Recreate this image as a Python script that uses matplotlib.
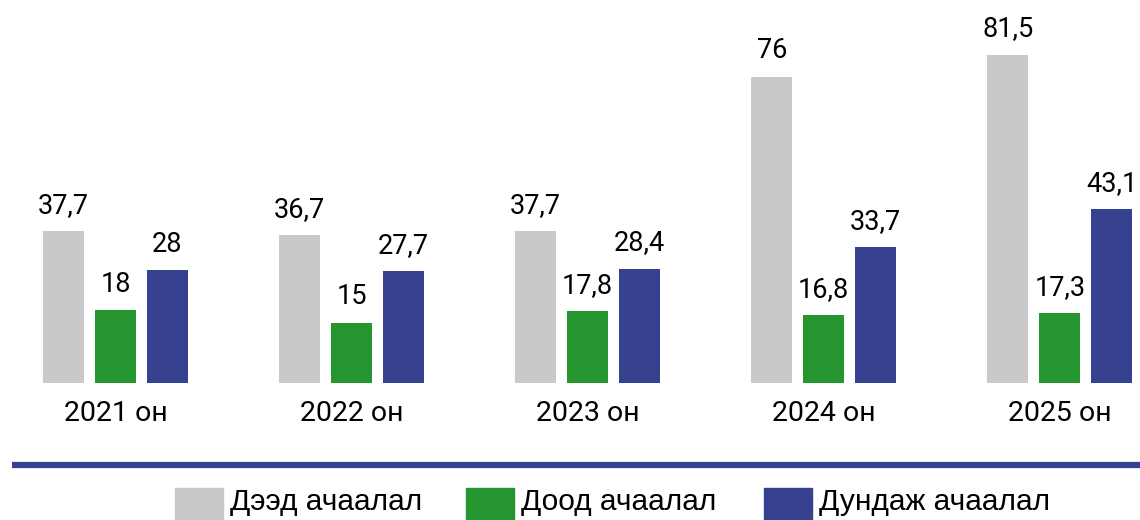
import matplotlib
matplotlib.use("Agg")
import matplotlib.pyplot as plt
from matplotlib import font_manager
from matplotlib.patches import Rectangle
import numpy as np

years = ["2021 он", "2022 он", "2023 он", "2024 он", "2025 он"]
series_names = ["Дээд ачаалал", "Доод ачаалал", "Дундаж ачаалал"]
upper = [37.7, 36.7, 37.7, 76, 81.5]
lower = [18, 15, 17.8, 16.8, 17.3]
average = [28, 27.7, 28.4, 33.7, 43.1]
colors = ["#c8c9cb", "#25962f", "#36418f"]

avail = {f.name for f in font_manager.fontManager.ttflist}
narrow = "Liberation Sans Narrow" if "Liberation Sans Narrow" in avail else "Liberation Sans"
main = "Roboto"

W, H = 1140, 520
fig = plt.figure(figsize=(W / 100, H / 100), dpi=100)

base_px = 383
ax = fig.add_axes([0, (H - base_px) / H, 1, base_px / H])
spacing = 236.1
c0 = 115.5
ax.set_xlim(-c0 / spacing, (W - c0) / spacing)
ax.set_ylim(0, base_px / 4.03)
ax.axis("off")

x = np.arange(len(years))
bw = 41 / spacing
off = 52 / spacing
for i, (vals, col) in enumerate(zip([upper, lower, average], colors)):
    pos = x + (i - 1) * off
    ax.bar(pos, vals, width=bw, color=col, zorder=2)
    for p, v in zip(pos, vals):
        lab = (f"{v:g}").replace(".", ",")
        ax.annotate(lab, (p, v), xytext=(0, 9), textcoords="offset points",
                    ha="center", va="bottom", fontsize=19.5, family=main)
for xi, yl in zip(x, years):
    ax.annotate(yl, (xi, 0), xytext=(0, -12), textcoords="offset points",
                ha="center", va="top", fontsize=20.5, family=main)

# overlay in pixel coords for rule and legend
ov = fig.add_axes([0, 0, 1, 1])
ov.set_xlim(0, W)
ov.set_ylim(H, 0)
ov.axis("off")
ov.plot([12, W], [465, 465], color="#36418f", lw=4.5, solid_capstyle="butt")

leg_x = [175, 466, 764]
for lx, name, col in zip(leg_x, series_names, colors):
    ov.add_patch(Rectangle((lx, 488), 48, 31, color=col))
    ov.text(lx + 55, 502, name, fontsize=21.5, family=narrow, va="center", ha="left")

fig.savefig("out.png", dpi=100)
